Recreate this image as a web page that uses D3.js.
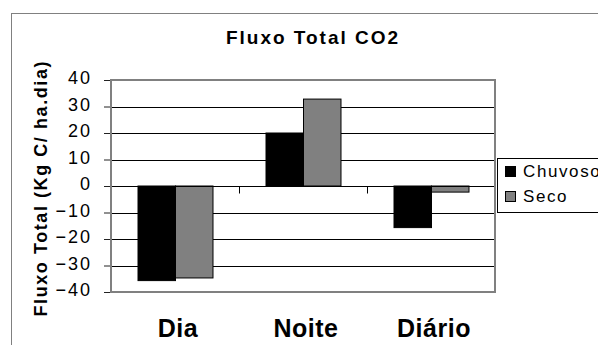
<!DOCTYPE html>
<html>
<head>
<meta charset="utf-8">
<script src="https://cdn.jsdelivr.net/npm/d3@7"></script>
<style>
  html, body { margin: 0; padding: 0; background: #fff; }
  svg { display: block; font-family: Arial, "Liberation Sans", sans-serif; }
</style>
</head>
<body>
<svg id="chart" width="598" height="345"></svg>
<script>
// Fluxo total de CO2 por período (Kg C / ha.dia)
const categories = ["Dia", "Noite", "Diário"];
const seriesNames = ["Chuvoso", "Seco"];
const chuvoso = [-35.7, 20.0, -15.7];
const seco = [-34.7, 32.8, -2.3];
const yTicks = [-40, -30, -20, -10, 0, 10, 20, 30, 40];
const seriesColors = ["#000000", "#808080"];

const values = [chuvoso, seco];
const rows = categories.map((c, i) => ({
  cat: c,
  bars: seriesNames.map((s, j) => ({ series: s, value: values[j][i], color: seriesColors[j] }))
}));

const svg = d3.select("#chart");
const plot = { left: 111, right: 495, top: 80, bottom: 292 };

const x = d3.scaleBand().domain(categories).range([plot.left, plot.right]).paddingInner(0).paddingOuter(0);
const xs = d3.scaleBand().domain(seriesNames).range([0, x.bandwidth()]).paddingInner(0).paddingOuter(0.707);
const y = d3.scaleLinear().domain([-40, 40]).range([plot.bottom, plot.top]);

// outer chart frame
svg.append("rect")
  .attr("x", 11.5).attr("y", 13.5).attr("width", 700).attr("height", 400)
  .attr("fill", "none").attr("stroke", "#808080").attr("stroke-width", 1);

// title
svg.append("text")
  .attr("x", 226).attr("y", 43.5)
  .attr("textLength", 172).attr("lengthAdjust", "spacing")
  .style("font-size", "19px").style("font-weight", "bold").attr("fill", "#000")
  .text("Fluxo Total CO2");

// horizontal gridlines
svg.append("g").selectAll("line")
  .data(yTicks.filter(t => t !== 40 && t !== -40))
  .join("line")
  .attr("x1", plot.left).attr("x2", plot.right)
  .attr("y1", d => Math.round(y(d)) + 0.5).attr("y2", d => Math.round(y(d)) + 0.5)
  .attr("stroke", "#000").attr("stroke-width", 1);

// bars
const groups = svg.append("g").selectAll("g")
  .data(rows).join("g")
  .attr("transform", d => `translate(${x(d.cat)},0)`);

groups.selectAll("rect")
  .data(d => d.bars).join("rect")
  .attr("x", d => xs(d.series) + 0.5)
  .attr("width", xs.bandwidth())
  .attr("y", d => Math.min(y(d.value), y(0)))
  .attr("height", d => Math.abs(y(d.value) - y(0)))
  .attr("fill", d => d.color)
  .attr("stroke", "#000").attr("stroke-width", 1);

// category axis along zero
const y0 = Math.round(y(0)) + 0.5;
svg.append("line")
  .attr("x1", plot.left).attr("x2", plot.right)
  .attr("y1", y0).attr("y2", y0)
  .attr("stroke", "#000").attr("stroke-width", 1);
svg.append("g").selectAll("line")
  .data(categories.map(c => x(c)).concat([plot.right]))
  .join("line")
  .attr("x1", d => Math.round(d) + 0.5).attr("x2", d => Math.round(d) + 0.5)
  .attr("y1", y0).attr("y2", y0 + 7)
  .attr("stroke", "#000").attr("stroke-width", 1);

// plot area border
svg.append("rect")
  .attr("x", plot.left).attr("y", plot.top)
  .attr("width", plot.right - plot.left).attr("height", plot.bottom - plot.top)
  .attr("fill", "none").attr("stroke", "#808080").attr("stroke-width", 2);

// value axis
const yAxis = svg.append("g")
  .attr("transform", `translate(${plot.left - 1},0)`)
  .call(d3.axisLeft(y).tickValues(yTicks).tickSize(6).tickPadding(12).tickFormat(d3.format("d")));
yAxis.select(".domain").remove();
yAxis.selectAll(".tick line").attr("stroke", "#222");
yAxis.selectAll(".tick text")
  .attr("dy", "0.2em")
  .attr("fill", "#000")
  .style("font-size", "18px")
  .style("letter-spacing", "2px")
  .style("font-family", "Arial, 'Liberation Sans', sans-serif");

// value axis title
svg.append("text")
  .attr("transform", "translate(46.5,189) rotate(-90)")
  .attr("text-anchor", "middle")
  .attr("textLength", 255).attr("lengthAdjust", "spacing")
  .style("font-size", "18px").style("font-weight", "bold").attr("fill", "#000")
  .text("Fluxo Total (Kg C/ ha.dia)");

// category labels
svg.append("g").selectAll("text")
  .data(categories).join("text")
  .attr("x", d => x(d) + x.bandwidth() / 2 + 3)
  .attr("y", 337)
  .attr("text-anchor", "middle")
  .style("font-size", "25px").style("font-weight", "bold").style("letter-spacing", "0.5px")
  .attr("fill", "#000")
  .text(d => d);

// legend
const legend = svg.append("g");
legend.append("rect")
  .attr("x", 497.5).attr("y", 158.5).attr("width", 200).attr("height", 54)
  .attr("fill", "#fff").attr("stroke", "#000").attr("stroke-width", 1);
const items = legend.selectAll("g.item")
  .data(seriesNames.map((s, i) => ({ name: s, color: seriesColors[i] })))
  .join("g").attr("class", "item")
  .attr("transform", (d, i) => `translate(0,${i * 25})`);
items.append("rect")
  .attr("x", 505.5).attr("y", 166.5).attr("width", 10).attr("height", 10)
  .attr("fill", d => d.color).attr("stroke", "#000").attr("stroke-width", 1);
items.append("text")
  .attr("x", 523).attr("y", 177)
  .style("font-size", "17px").style("letter-spacing", "1.6px")
  .attr("fill", "#000")
  .text(d => d.name);
</script>
</body>
</html>
